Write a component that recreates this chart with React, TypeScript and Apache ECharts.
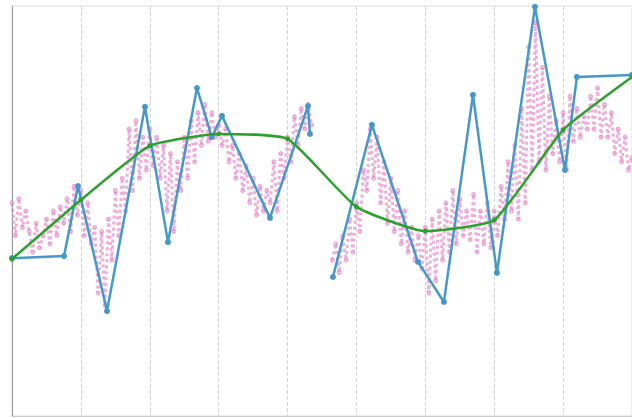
import React, { useEffect, useRef } from "react";
import * as echarts from "echarts";

// trend (green), one value per category position 0..9
const trendX = [0, 1, 2, 3, 4, 5, 6, 7, 8, 9];
const trendY = [38.3, 52.7, 65.9, 68.8, 67.6, 51.0, 45.1, 47.8, 69.8, 82.7];

// sampled series (blue): x positions and values, null = gap
const sampleX = [0, 0.755, 0.958, 1.379, 1.93, 2.264, 2.685, 2.9, 3.048, 3.745, 4.296, 4.325, 4.5, 4.659, 5.225, 5.893, 6.27, 6.691, 7.039, 7.591, 8.026, 8.2, 9.0];
const sampleY: (number | null)[] = [38.5, 39.0, 56.1, 25.6, 75.4, 42.4, 80.0, 68.0, 73.2, 48.3, 75.6, 68.8, null, 33.9, 71.0, 37.6, 27.8, 78.3, 34.9, 99.8, 60.0, 82.7, 83.2];

// raw dense series (pink), evenly spaced from 0 with step 0.05
const rawStart = 0;
const rawStep = 0.05;
const rawY: (number | null)[] = [
  52, 44, 53, 46, 50,
  45, 40, 47, 41, 44,
  48, 42, 50, 44, 51,
  47, 53, 45, 56, 49,
  55, 44, 52, 42, 46,
  30, 45, 27, 48, 38,
  55, 44, 58, 50, 70,
  55, 72, 58, 68, 60,
  70, 61, 68, 58, 66,
  50, 64, 45, 62, 55,
  68, 58, 72, 62, 74,
  66, 76, 67, 74, 68,
  71, 66, 70, 62, 66,
  58, 64, 55, 61, 52,
  58, 49, 56, 50, 55,
  52, 62, 50, 64, 58,
  68, 62, 73, 66, 75,
  70, 76, 71,
  null, null, null, null, null,
  38, 42, 35, 44, 38,
  48, 40, 52, 45, 60,
  55, 70, 58, 68, 52,
  62, 47, 58, 45, 55,
  42, 50, 40, 46, 38,
  44, 36, 46, 30, 48,
  33, 50, 38, 52, 40,
  55, 42, 53, 44, 50,
  43, 54, 40, 50, 42,
  52, 41, 50, 44, 56,
  48, 62, 50, 66, 48,
  75, 52, 90, 60, 96,
  62, 85, 60, 78, 64,
  72, 62, 74, 60, 78,
  67, 75, 68, 73, 70,
  78, 70, 80, 68, 76,
  68, 74, 64, 70, 62,
  68, 60, 63,
];

export default function App() {
  const ref = useRef<HTMLDivElement>(null);
  useEffect(() => {
    if (!ref.current) return;
    const chart = echarts.init(ref.current, undefined, { renderer: "svg" });
    const rawData = rawY.map((v, i) => [rawStart + i * rawStep, v]);
    const sampleData = sampleX.map((x, i) => [x, sampleY[i]]);
    const trendData = trendX.map((x, i) => [x, trendY[i]]);
    chart.setOption({
      animation: false,
      backgroundColor: "#ffffff",
      grid: { left: 12, right: 0, top: 6, bottom: 2, show: true, borderColor: "#dddddd", borderWidth: 1 },
      xAxis: {
        type: "value",
        min: 0,
        max: 9,
        interval: 1,
        axisLabel: { show: false },
        axisTick: { show: false },
        axisLine: { show: true, lineStyle: { color: "#cccccc" } },
        splitLine: { show: true, lineStyle: { color: "#d4d4d4", type: "dashed" } },
      },
      yAxis: {
        type: "value",
        min: 0,
        max: 100,
        axisLabel: { show: false },
        axisTick: { show: false },
        axisLine: { show: true, lineStyle: { color: "#999999" } },
        splitLine: { show: false },
      },
      series: [
        {
          type: "line",
          data: rawData,
          showSymbol: true,
          symbol: "emptyCircle",
          symbolSize: 3,
          connectNulls: false,
          itemStyle: { color: "#e377c2", borderColor: "#e377c2", opacity: 0.6 },
          lineStyle: { color: "#e377c2", width: 3, type: "dotted", opacity: 0.6 },
          z: 1,
        },
        {
          type: "line",
          data: sampleData,
          symbol: "circle",
          symbolSize: 6,
          connectNulls: false,
          itemStyle: { color: "#4598c9" },
          lineStyle: { color: "#4598c9", width: 2.5 },
          z: 2,
        },
        {
          type: "line",
          data: trendData,
          smooth: 0.15,
          symbol: "circle",
          symbolSize: 5,
          itemStyle: { color: "#2ca02c" },
          lineStyle: { color: "#2ca02c", width: 2.5 },
          z: 3,
        },
      ],
    });
    return () => chart.dispose();
  }, []);
  return (
    <div
      ref={ref}
      style={{ position: "fixed", left: 0, top: 0, width: 632, height: 418 }}
    />
  );
}
